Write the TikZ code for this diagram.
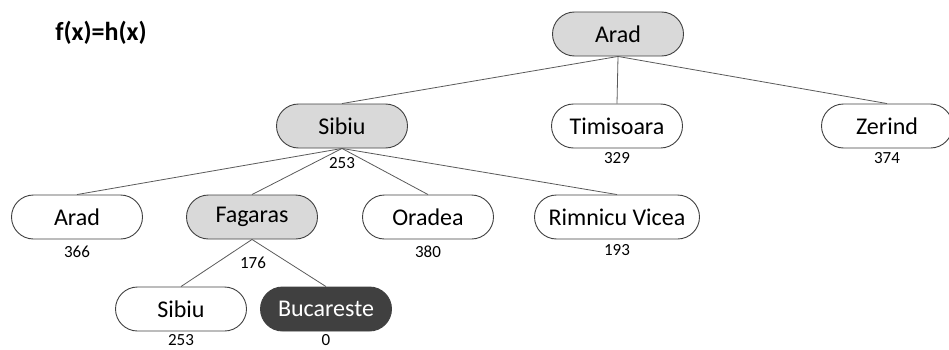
\documentclass[tikz,border=0pt]{standalone}
\usepackage{fontspec}
\setmainfont{Carlito}
\usetikzlibrary{positioning}
\definecolor{Expanded}{HTML}{D9D9D9}
\definecolor{Goal}{HTML}{404040}
\definecolor{Edge}{HTML}{5A5A5A}
\definecolor{Border}{HTML}{404040}
\newcommand{\CityFont}{\fontsize{24}{28}\selectfont}
\newcommand{\CostFont}{\fontsize{17}{20}\selectfont}

\tikzset{
  city/.style={
    draw=Border,
    line width=0.9pt,
    rounded corners=22pt,
    minimum width=131pt,
    minimum height=44pt,
    inner sep=0pt,
    font=\CityFont
  },
  expanded/.style={city, fill=Expanded},
  goal/.style={city, fill=Goal, text=white},
  cost/.style={inner sep=0pt, font=\CostFont},
  branch/.style={draw=Edge, line width=0.8pt}
}

\begin{document}
\begin{tikzpicture}[x=1pt,y=1pt]

  \useasboundingbox (0,0) rectangle (949,349);

  \node[
    font=\fontsize{26}{30}\selectfont\bfseries
  ] (title) at (101,316) {f(x)=h(x)};

  \node[expanded] (arad) at (618,315) {Arad};

  \node[expanded] (sibiu) at (342,223) {Sibiu};
  \node[city] (timisoara) at (617,223) {Timisoara};
  \node[city] (zerind) at (887,223) {Zerind};

  \node[city] (aradB) at (77,132) {Arad};
  \node[expanded] (fagaras) at (252,132) {Fagaras};
  \node[city] (oradea) at (428,132) {Oradea};
  \node[city, minimum width=165pt] (rimnicu) at (617,132) {Rimnicu Vicea};

  \node[city] (sibiuB) at (181,40) {Sibiu};
  \node[goal] (bucareste) at (326,40) {Bucareste};

  \node[cost] (hSibiu) at (342,186) {253};
  \node[cost] (hTimisoara) at (617,191) {329};
  \node[cost] (hZerind) at (887,191) {374};
  \node[cost] (hAradB) at (77,97) {366};
  \node[cost] (hFagaras) at (253,86) {176};
  \node[cost] (hOradea) at (428,97) {380};
  \node[cost] (hRimnicu) at (617,99) {193};
  \node[cost] (hSibiuB) at (181,9) {253};
  \node[cost] (hBucareste) at (326,9) {0};

  \foreach \child in {sibiu,timisoara,zerind}
    \draw[branch] (arad.south) -- (\child.north);

  \foreach \child in {aradB,fagaras,oradea,rimnicu}
    \draw[branch] (sibiu.south) -- (\child.north);

  \foreach \child in {sibiuB,bucareste}
    \draw[branch] (fagaras.south) -- (\child.north);

\end{tikzpicture}
\end{document}
